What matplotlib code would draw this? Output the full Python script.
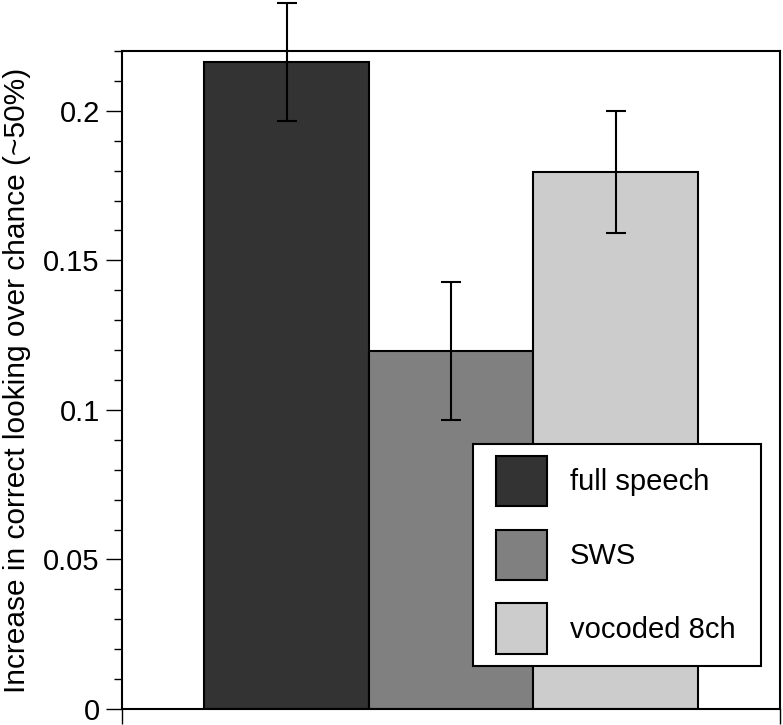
import matplotlib
matplotlib.use('Agg')
import matplotlib.pyplot as plt
from matplotlib.patches import Rectangle
from matplotlib.container import BarContainer
from matplotlib.legend_handler import HandlerPatch, update_from_first_child
import numpy as np

plt.rcParams['font.family'] = ['Liberation Sans', 'DejaVu Sans']

conditions = ['full speech', 'SWS', 'vocoded 8ch']
means = [0.2163, 0.1197, 0.1794]
errors = [0.0196, 0.0230, 0.0204]
colors = ['#333333', '#808080', '#cccccc']
yticks = [0, 0.05, 0.1, 0.15, 0.2]
ytick_labels = ['0', '0.05', '0.1', '0.15', '0.2']

FS = 21

fig = plt.figure(figsize=(7.83, 7.25), dpi=100)
ax = fig.add_axes([122 / 783, 16 / 725, 658 / 783, 658 / 725])

x = np.arange(1, len(conditions) + 1)
for xi, m, e, c, lab in zip(x, means, errors, colors, conditions):
    ax.bar(xi, m, width=1.0, color=c, edgecolor='black', linewidth=1.5, label=lab, zorder=2)
    ax.errorbar(xi, m, yerr=e, color='black', elinewidth=1.5, capsize=7.5,
                capthick=1.5, clip_on=False, zorder=3)

ax.set_xlim(0, 4)
ax.set_ylim(0, 0.22)
ax.set_xticks([0, 4])
ax.set_xticklabels([])
ax.tick_params(axis='x', direction='out', length=11, width=1.0)
ax.set_yticks(yticks)
ax.set_yticklabels(ytick_labels)
ax.set_yticks(np.arange(0, 0.2201, 0.01), minor=True)
ax.tick_params(axis='y', which='major', direction='out', length=11.5, width=1.0,
               labelsize=FS, pad=4.5)
ax.tick_params(axis='y', which='minor', direction='out', length=5.8, width=1.0)
for s in ax.spines.values():
    s.set_linewidth(1.5)

ax.set_ylabel('Increase in correct looking over chance (~50%)', fontsize=21.5, labelpad=9)


# square swatch, pushed right a bit inside the handle box
def swatch(legend, orig_handle, xdescent, ydescent, width, height, fontsize):
    off = 0.38 * fontsize
    return Rectangle((-xdescent + off, -ydescent), width - off, height)


leg = ax.legend(loc='lower left', bbox_to_anchor=(0.5334, 0.0653, 0.4377, 0.334),
                mode='expand', borderaxespad=0,
                fontsize=FS, fancybox=False, framealpha=1, edgecolor='black',
                handlelength=2.13, handleheight=2.3, labelspacing=0.79,
                handletextpad=0.79, borderpad=0.41,
                handler_map={BarContainer: HandlerPatch(patch_func=swatch,
                                                        update_func=update_from_first_child)})
leg.get_frame().set_linewidth(1.5)
for h in leg.legend_handles:
    h.set_edgecolor('black')
    h.set_linewidth(1.5)

fig.savefig('out.png', dpi=100)
